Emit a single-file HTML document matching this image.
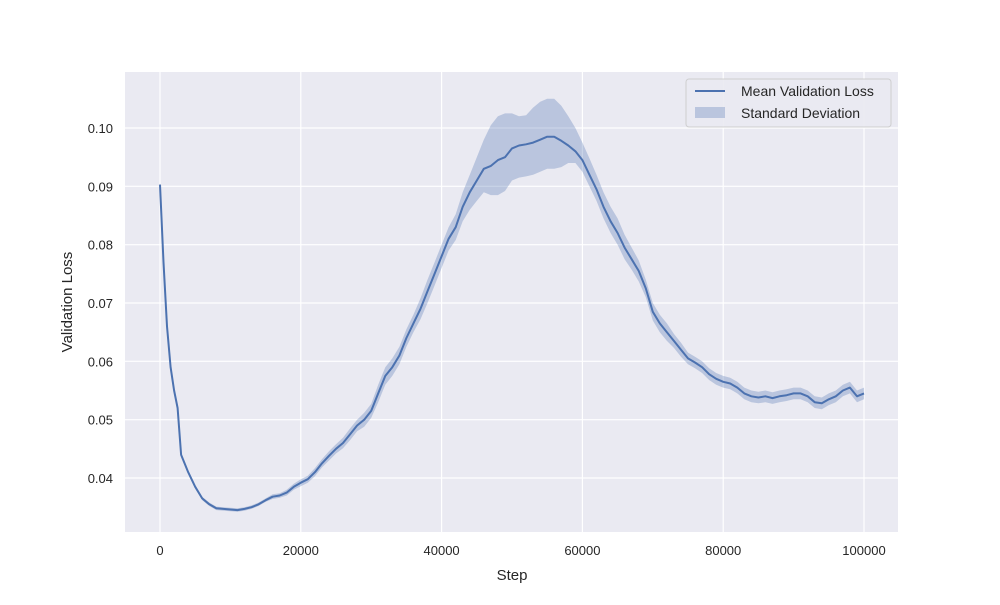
<!DOCTYPE html>
<html><head><meta charset="utf-8"><style>
body{margin:0;background:#fff;}
svg text{font-family:"Liberation Sans",sans-serif;fill:#262626;}
</style></head><body>
<svg id="chart" width="1000" height="600">
<rect x="125" y="72" width="773" height="460" fill="#eaeaf2"/>
<g id="grid"></g><g id="band"></g><g id="line"></g><g id="ticks"></g>
<text x="512" y="580" font-size="15" text-anchor="middle">Step</text>
<text transform="translate(72,302) rotate(-90)" font-size="15" text-anchor="middle">Validation Loss</text>
<g>
<rect x="686" y="79" width="205" height="48" rx="3" fill="#eaeaf2" stroke="#cccccc" opacity="0.9"/>
<line x1="695" y1="91" x2="725" y2="91" stroke="#4c72b0" stroke-width="2"/>
<text x="741" y="96" font-size="14">Mean Validation Loss</text>
<rect x="695" y="107" width="30" height="11" fill="#4c72b0" opacity="0.3"/>
<text x="741" y="118" font-size="14">Standard Deviation</text>
</g>
</svg>
<script>
const steps=[0,500,1000,1500,2000,2500];
for(let k=3;k<=100;k++)steps.push(k*1000);
const meanLoss=[0.0903,0.077,0.066,0.059,0.055,0.052,
0.044,0.041,0.0385,0.0365,0.0355,0.0348,0.0347,0.0346,0.0345,0.0347,
0.035,0.0355,0.0362,0.0368,0.037,0.0375,0.0385,0.0392,0.0398,0.041,
0.0425,0.0438,0.045,0.046,0.0475,0.049,0.050,0.0515,0.0545,0.0575,
0.059,0.061,0.064,0.0665,0.069,0.072,0.075,0.078,0.081,0.083,
0.0865,0.089,0.091,0.093,0.0935,0.0945,0.095,0.0965,0.097,0.0972,
0.0975,0.098,0.0985,0.0985,0.0978,0.097,0.096,0.0945,0.092,0.0895,
0.0865,0.084,0.082,0.0795,0.0775,0.0755,0.0725,0.0685,0.0665,0.065,
0.0635,0.062,0.0605,0.0598,0.059,0.0578,0.057,0.0565,0.0562,0.0555,
0.0545,0.054,0.0538,0.054,0.0537,0.054,0.0542,0.0545,0.0545,0.054,
0.053,0.0528,0.0535,0.054,0.055,0.0555,0.054,0.0545];
const devUp=[0,0,0,0,0,0,
0.0003,0.0003,0.0003,0.0003,0.0003,0.0003,0.0003,0.0003,0.0003,0.0003,
0.0003,0.0003,0.0003,0.0004,0.0004,0.0005,0.0005,0.0006,0.0006,0.0007,
0.0007,0.0008,0.0008,0.0009,0.001,0.001,0.0012,0.0012,0.0015,0.0015,
0.0015,0.0015,0.0015,0.0015,0.0018,0.002,0.002,0.002,0.002,0.0022,
0.0025,0.003,0.004,0.005,0.007,0.0075,0.0075,0.006,0.005,0.005,
0.006,0.0065,0.0065,0.0065,0.006,0.005,0.004,0.003,0.0028,0.0025,
0.0025,0.0025,0.0025,0.0022,0.002,0.0018,0.0015,0.0015,0.0015,0.0015,
0.0012,0.0012,0.001,0.001,0.001,0.001,0.001,0.001,0.001,0.001,
0.001,0.001,0.001,0.001,0.001,0.001,0.001,0.001,0.001,0.001,
0.001,0.001,0.001,0.001,0.001,0.001,0.001,0.001];
const devDown=[0,0,0,0,0,0,
0.0003,0.0003,0.0003,0.0003,0.0003,0.0003,0.0003,0.0003,0.0003,0.0003,
0.0003,0.0003,0.0003,0.0004,0.0004,0.0005,0.0005,0.0006,0.0006,0.0007,
0.0007,0.0008,0.0008,0.0009,0.001,0.001,0.0012,0.0012,0.0015,0.0015,
0.0015,0.0015,0.0015,0.0015,0.0018,0.002,0.002,0.002,0.002,0.0022,
0.0025,0.003,0.0035,0.004,0.005,0.006,0.0058,0.0055,0.0055,0.0055,
0.0055,0.0055,0.0055,0.0055,0.0045,0.003,0.002,0.002,0.002,0.002,
0.002,0.002,0.002,0.002,0.0018,0.0018,0.0015,0.0015,0.0015,0.0015,
0.0012,0.0012,0.001,0.001,0.001,0.001,0.001,0.001,0.001,0.001,
0.001,0.001,0.001,0.001,0.001,0.001,0.001,0.001,0.001,0.001,
0.001,0.001,0.001,0.001,0.001,0.001,0.001,0.001];
const xTicks=[0,20000,40000,60000,80000,100000];
const yTicks=[0.04,0.05,0.06,0.07,0.08,0.09,0.10];
const yTickLabels=["0.04","0.05","0.06","0.07","0.08","0.09","0.10"];

const NS="http://www.w3.org/2000/svg";
const X=v=>160+(v-0)*(864-160)/100000;
const Y=v=>478-(v-0.04)*(478-128)/0.06;
function mk(tag,attrs,parent){const e=document.createElementNS(NS,tag);for(const k in attrs)e.setAttribute(k,attrs[k]);document.getElementById(parent).appendChild(e);return e;}
xTicks.forEach(t=>{
  const l=mk('line',{x1:X(t),x2:X(t),y1:72,y2:532,stroke:'#fff','stroke-width':1.2},'grid');
  
  
  const tx=mk('text',{x:X(t),y:555,'font-size':13,'text-anchor':'middle'},'ticks');
  tx.textContent=String(t);
  
  
});
yTicks.forEach((t,i)=>{
  const l=mk('line',{x1:125,x2:898,y1:Y(t),y2:Y(t),stroke:'#fff','stroke-width':1.2},'grid');
  
  
  const tx=mk('text',{x:113,y:Y(t)+5,'font-size':13,'text-anchor':'end'},'ticks');
  tx.textContent=yTickLabels[i];
  
  
});
let up=steps.map((s,i)=>X(s).toFixed(1)+','+Y(meanLoss[i]+devUp[i]).toFixed(1));
let dn=steps.map((s,i)=>X(s).toFixed(1)+','+Y(meanLoss[i]-devDown[i]).toFixed(1)).reverse();
const band=mk('polygon',{points:up.concat(dn).join(' '),fill:'#4c72b0','fill-opacity':0.3},'band');


const line=mk('polyline',{points:steps.map((s,i)=>X(s).toFixed(1)+','+Y(meanLoss[i]).toFixed(1)).join(' '),fill:'none',stroke:'#4c72b0','stroke-width':2,'stroke-linejoin':'round'},'line');


</script>
</body></html>
